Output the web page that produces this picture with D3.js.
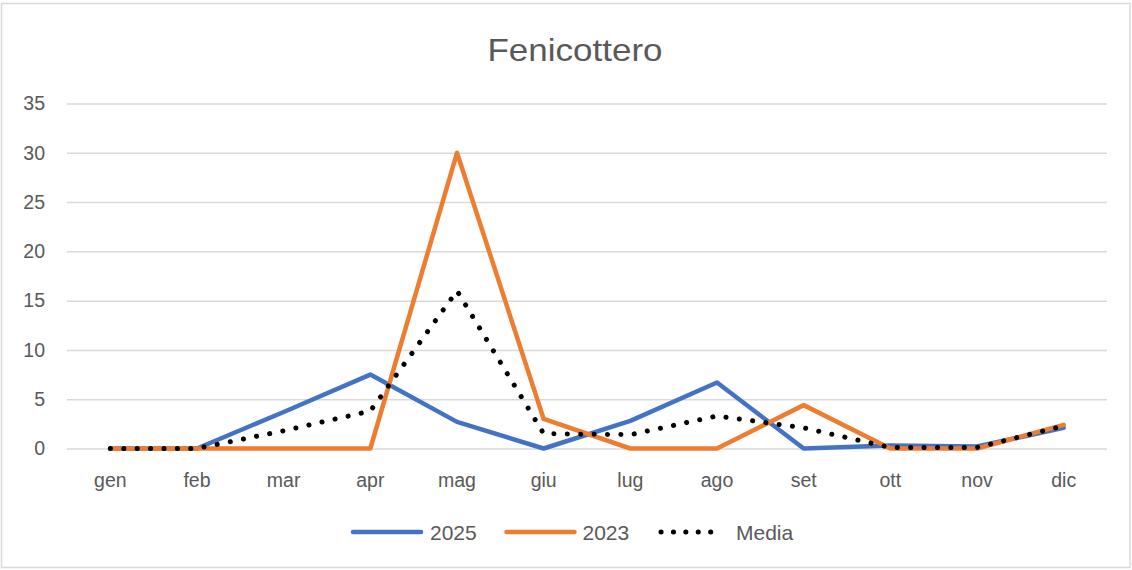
<!DOCTYPE html>
<html>
<head>
<meta charset="utf-8">
<script src="https://cdn.jsdelivr.net/npm/d3@7"></script>
<style>
  html, body { margin: 0; padding: 0; background: #fff; }
  svg { display: block; }
  text { font-family: "Liberation Sans", Arial, sans-serif; fill: #595959; }
</style>
</head>
<body>
<svg id="chart" width="1132" height="570"></svg>
<script>
const months = ["gen","feb","mar","apr","mag","giu","lug","ago","set","ott","nov","dic"];
const values2025 = [0, 0, 3.7, 7.5, 2.7, 0, 2.8, 6.7, 0, 0.3, 0.2, 2.1];
const values2023 = [0, 0, 0, 0, 30, 3.0, 0, 0, 4.4, 0, 0, 2.4];
const valuesMedia = [0, 0, 1.8, 3.8, 16, 1.5, 1.4, 3.3, 2.1, 0.1, 0.1, 2.3];
const yTicks = [0, 5, 10, 15, 20, 25, 30, 35];
const seriesNames = ["2025", "2023", "Media"];

const svg = d3.select("#chart");
const W = 1132, H = 570;

svg.append("rect").attr("x", 1.5).attr("y", 3.5).attr("width", W - 3.5).attr("height", H - 6)
  .attr("fill", "#fff").attr("stroke", "#d9d9d9").attr("stroke-width", 1.5);

const plot = { left: 67, right: 1107, top: 103.5, bottom: 448.5 };

const x = d3.scaleBand().domain(months).range([plot.left, plot.right]);
const y = d3.scaleLinear().domain([0, 35]).range([plot.bottom, plot.top]);

svg.append("text").attr("x", 575).attr("y", 61).attr("text-anchor", "middle")
  .style("font-size", "32px").attr("textLength", 175).attr("lengthAdjust", "spacingAndGlyphs")
  .text("Fenicottero");

// grid
const yAxis = d3.axisLeft(y).tickValues(yTicks).tickSize(-(plot.right - plot.left)).tickPadding(22);
const gy = svg.append("g").attr("transform", `translate(${plot.left},0)`).call(yAxis);
gy.select(".domain").remove();
gy.selectAll(".tick line").attr("stroke", "#d9d9d9").attr("stroke-width", 1.5);
gy.selectAll(".tick text").style("font-size", "19.5px").attr("fill", "#595959")
  .attr("font-family", "Liberation Sans, Arial, sans-serif").attr("x", -22);

const xAxis = d3.axisBottom(x).tickSize(0).tickPadding(24.5);
const gx = svg.append("g").attr("transform", `translate(0,${plot.bottom})`).call(xAxis);
gx.select(".domain").remove();
gx.selectAll(".tick text").style("font-size", "19.5px").attr("fill", "#595959")
  .attr("font-family", "Liberation Sans, Arial, sans-serif");

const line = d3.line().x((d, i) => x(months[i]) + x.bandwidth() / 2).y(d => y(d));

const styles = [
  { data: values2025, color: "#4472C4", dash: null, width: 4.5, cap: "round" },
  { data: values2023, color: "#ED7D31", dash: null, width: 4.5, cap: "round" },
  { data: valuesMedia, color: "#000000", dash: "0.1 13.3", width: 5, cap: "round" }
];

styles.forEach(s => {
  svg.append("path").datum(s.data).attr("d", line)
    .attr("fill", "none").attr("stroke", s.color).attr("stroke-width", s.width)
    .attr("stroke-linejoin", "round").attr("stroke-linecap", s.cap)
    .attr("stroke-dasharray", s.dash);
});

// legend
const legendItems = [
  { x1: 353, x2: 421, tx: 430, dash: null },
  { x1: 506.5, x2: 574.5, tx: 582.5, dash: null },
  { x1: 661, x2: 723, tx: 736, dash: "0.1 12.3" }
];
const ly = 532;
legendItems.forEach((it, i) => {
  const s = styles[i];
  svg.append("line").attr("x1", it.x1).attr("x2", it.x2).attr("y1", ly).attr("y2", ly)
    .attr("stroke", s.color).attr("stroke-width", s.width).attr("stroke-linecap", s.cap)
    .attr("stroke-dasharray", it.dash);
  svg.append("text").attr("x", it.tx).attr("y", 539.5).style("font-size", "21px").text(seriesNames[i]);
});
</script>
</body>
</html>
